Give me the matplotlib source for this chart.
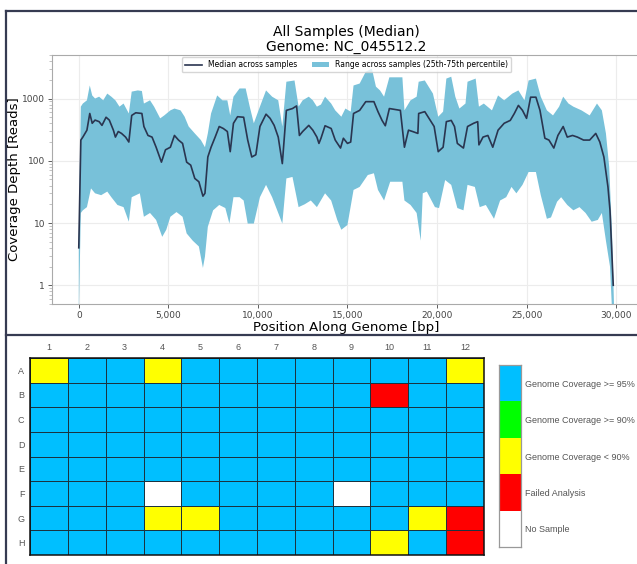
import numpy as np
import matplotlib.pyplot as plt
from matplotlib.colors import ListedColormap, BoundaryNorm
from matplotlib.lines import Line2D
from matplotlib.ticker import FuncFormatter, LogLocator

# median coverage across samples
median_pos = [0, 115, 227, 455, 614, 750, 909, 1136, 1295, 1523, 1705, 1932, 2045, 2205, 2386, 2614,
              2795, 2955, 3182, 3523, 3636, 3864, 4091, 4318, 4614, 4841, 5114, 5341, 5568, 5795,
              6023, 6250, 6477, 6705, 6932, 7045, 7205, 7386, 7614, 7841, 8068, 8295, 8455, 8636,
              8864, 9205, 9432, 9659, 9886, 10114, 10455, 10682, 10909, 11136, 11364, 11591, 11932,
              12159, 12318, 12500, 12841, 13068, 13295, 13409, 13523, 13750, 14091, 14318, 14614,
              14773, 15000, 15182, 15341, 15682, 16023, 16477, 16705, 16932, 17114, 17341, 17955,
              18182, 18409, 18636, 18932, 18977, 19318, 19841, 20068, 20341, 20523, 20795, 20977,
              21136, 21477, 21705, 22045, 22273, 22341, 22568, 22841, 23114, 23409, 23750, 24091,
              24318, 24545, 24773, 25000, 25227, 25523, 25750, 26023, 26250, 26523, 26750, 27045,
              27273, 27568, 27841, 28182, 28523, 28864, 29091, 29318, 29545, 29659, 29841]
median_depth = [4, 215, 240, 310, 575, 400, 450, 425, 370, 500, 450, 310, 240, 295, 275, 240,
                200, 535, 590, 575, 355, 255, 240, 165, 95, 150, 165, 255, 215, 190,
                95, 85, 52, 46, 27, 30, 115, 165, 240, 355, 330, 295, 140, 400,
                510, 500, 215, 115, 125, 355, 560, 480, 370, 240, 90, 645, 690,
                760, 255, 295, 370, 310, 240, 190, 230, 365, 330, 215, 160,
                230, 190, 200, 575, 645, 890, 890, 615, 445, 365, 690, 645,
                165, 310, 295, 275, 575, 615, 355, 140, 165, 425, 445, 355,
                190, 160, 355, 400, 425, 180, 240, 255, 165, 310, 400, 445,
                575, 775, 645, 480, 1050, 1050, 645, 230, 215, 160, 255, 355,
                240, 255, 240, 215, 215, 275, 200, 115, 38, 16, 1]

# 75th percentile
upper_pos = [0, 114, 227, 455, 614, 750, 909, 1136, 1364, 1591, 1818, 2045, 2273, 2500, 2795,
             2955, 3295, 3523, 3636, 3977, 4205, 4545, 4773, 5114, 5341, 5682, 5909, 6136, 6477,
             6818, 7045, 7205, 7386, 7727, 8023, 8295, 8455, 8636, 8977, 9318, 9545, 9773, 10114,
             10455, 10795, 11136, 11364, 11591, 12045, 12273, 12500, 12841, 13068, 13295, 13523,
             13750, 14091, 14318, 14659, 14886, 15182, 15341, 15682, 16023, 16364, 16591, 16818,
             17045, 17341, 18068, 18182, 18523, 18864, 18977, 19318, 19773, 20068, 20341, 20523,
             20795, 21023, 21250, 21591, 21705, 22159, 22341, 22614, 23068, 23409, 23750, 24205,
             24545, 24886, 25114, 25523, 25795, 26136, 26477, 26818, 27045, 27341, 27614, 28068,
             28523, 28932, 29205, 29432, 29614, 29773, 29886]
upper_depth = [6, 740, 830, 935, 1620, 1120, 1000, 1070, 935, 1200, 1070, 935, 740, 830, 575,
               1290, 1350, 1320, 830, 935, 740, 480, 535, 645, 690, 645, 510, 355, 275,
               215, 165, 275, 575, 1120, 935, 935, 535, 1070, 1450, 1450, 740, 400, 740,
               1350, 1070, 935, 355, 1860, 1950, 740, 935, 1070, 935, 740, 800,
               1070, 830, 645, 510, 690, 615, 1620, 1740, 2690, 3020, 1550, 1350,
               1070, 2190, 2190, 645, 935, 1070, 1860, 1950, 1200, 510, 615, 2090,
               2240, 1070, 690, 830, 1860, 2090, 740, 830, 645, 1120, 935, 1200,
               1350, 935, 1950, 2090, 1070, 645, 535, 740, 1070, 830, 740, 645,
               535, 830, 645, 275, 80, 6.8, 0.45]

# 25th percentile
lower_pos = [0, 114, 227, 455, 682, 909, 1250, 1591, 1818, 2159, 2500, 2795, 2955, 3409, 3636,
             3977, 4318, 4659, 4886, 5114, 5455, 5795, 6023, 6364, 6705, 6932, 7045, 7205, 7500,
             7841, 8182, 8409, 8636, 8977, 9205, 9432, 9773, 10114, 10455, 10795, 11136, 11364,
             11591, 11932, 12273, 12614, 12955, 13295, 13750, 14091, 14432, 14659, 15000, 15341,
             15682, 16136, 16477, 16705, 17045, 17386, 18068, 18182, 18523, 18864, 19091, 19205,
             19432, 19886, 20114, 20455, 20795, 21136, 21477, 21705, 22114, 22386, 22727, 23182,
             23523, 23864, 24159, 24432, 24773, 25114, 25523, 25795, 26136, 26364, 26705, 26932,
             27273, 27614, 27955, 28295, 28636, 28977, 29205, 29432, 29659, 29773]
lower_depth = [0.3, 14.5, 16, 18, 36, 30, 28, 32, 26, 19.5, 18, 10.5, 26, 30, 12.6,
               14.5, 11.2, 6, 7.8, 12.6, 15, 12.6, 6.8, 5.2, 4.2, 1.9, 2.9, 8.7, 16,
               19.5, 17.4, 9.8, 26, 26, 23, 9.8, 9.8, 26, 41, 26, 14.5, 9.8,
               52, 55, 18, 20, 23, 18, 30, 23, 11.2, 7.8, 9.3, 34,
               38, 59, 63, 34, 23, 46, 46, 23, 19.5, 14.5, 5.2, 30,
               32, 18, 17.4, 49, 41, 17.4, 16, 41, 38, 18, 19.5, 11.7,
               23, 26, 38, 30, 41, 66, 66, 28, 11.7, 12.3, 22, 26,
               19.5, 16, 18, 14.5, 10.5, 11.2, 14.5, 5.2, 2.0, 0.4]

# plate layout
row_labels = ['A', 'B', 'C', 'D', 'E', 'F', 'G', 'H']
col_labels = [str(i) for i in range(1, 13)]
status_names = ['Genome Coverage >= 95%', 'Genome Coverage >= 90%', 'Genome Coverage < 90%',
                'Failed Analysis', 'No Sample']
status_colors = ['#00bfff', '#00ff00', '#ffff00', '#ff0000', '#ffffff']
# 0 >=95%, 1 >=90%, 2 <90%, 3 failed, 4 no sample
plate_status = [
    [2, 0, 0, 2, 0, 0, 0, 0, 0, 0, 0, 2],
    [0, 0, 0, 0, 0, 0, 0, 0, 0, 3, 0, 0],
    [0, 0, 0, 0, 0, 0, 0, 0, 0, 0, 0, 0],
    [0, 0, 0, 0, 0, 0, 0, 0, 0, 0, 0, 0],
    [0, 0, 0, 0, 0, 0, 0, 0, 0, 0, 0, 0],
    [0, 0, 0, 4, 0, 0, 0, 0, 4, 0, 0, 0],
    [0, 0, 0, 2, 2, 0, 0, 0, 0, 0, 2, 3],
    [0, 0, 0, 0, 0, 0, 0, 0, 0, 2, 0, 3],
]

W, H = 637, 564
fig = plt.figure(figsize=(W / 100, H / 100), dpi=100)

# ---- coverage plot ----
ax = fig.add_axes([52 / W, 1 - 304 / H, 589 / W, 249 / H])
ax.fill(np.r_[upper_pos, lower_pos[::-1]], np.r_[upper_depth, lower_depth[::-1]],
        color='#78c1d9', lw=0, label='Range across samples (25th-75th percentile)', zorder=2)
ax.plot(median_pos, median_depth, color='#2a3550', lw=1.2, label='Median across samples', zorder=3)
ax.set_yscale('log')
ax.set_ylim(0.5, 5000)
ax.set_xlim(-1495, 31390)
ax.yaxis.set_major_locator(LogLocator(base=10, numticks=10))
ax.yaxis.set_major_formatter(FuncFormatter(lambda v, _: f'{v:g}'))
ax.xaxis.set_major_formatter(FuncFormatter(lambda v, _: f'{v:,.0f}'))
ax.grid(True, color='#ececec', lw=0.8, zorder=0)
ax.set_axisbelow(True)
for s in ax.spines.values():
    s.set_color('#aaaaaa')
ax.tick_params(labelsize=6.5, colors='#444444', length=3, width=0.6, pad=2)
ax.tick_params(which='minor', colors='#aaaaaa', length=2, width=0.5)
ax.set_title('All Samples (Median)\nGenome: NC_045512.2', fontsize=10, pad=3, linespacing=1.05)
ax.set_xlabel('Position Along Genome [bp]', fontsize=9.5)
ax.set_ylabel('Coverage Depth [Reads]', fontsize=9.5)
ax.xaxis.set_label_coords(0.5, -0.07)
ax.yaxis.set_label_coords(-0.053, 0.5)
handles, labels = ax.get_legend_handles_labels()
ax.legend(handles[::-1], labels[::-1], loc='upper center', ncol=2, fontsize=5.5,
          borderaxespad=0.3, frameon=True, edgecolor='#cccccc', handlelength=2.2)

# ---- plate map ----
cmap = ListedColormap(status_colors)
norm = BoundaryNorm(np.arange(-0.5, 5.5, 1), cmap.N)
font = {'family': 'Liberation Sans', 'size': 6.5, 'color': '#555555'}

ax2 = fig.add_axes([30 / W, 1 - 555 / H, 454 / W, 197 / H])
ax2.pcolormesh(np.array(plate_status), cmap=cmap, norm=norm, edgecolors='#1b3340', linewidth=0.55)
ax2.set_ylim(len(row_labels), 0)
ax2.set_xlim(0, len(col_labels))
ax2.set_xticks(np.arange(len(col_labels)) + 0.5)
ax2.set_xticklabels(col_labels, fontdict=font)
ax2.set_yticks(np.arange(len(row_labels)) + 0.5)
ax2.set_yticklabels(row_labels, fontdict=font)
ax2.xaxis.tick_top()
ax2.tick_params(length=0, pad=4)
for s in ax2.spines.values():
    s.set_color('#111111')
    s.set_linewidth(1.1)

cax = fig.add_axes([499 / W, 1 - 547 / H, 22 / W, 182 / H])
cax.imshow(np.arange(len(status_names)).reshape(-1, 1), cmap=cmap, norm=norm, aspect='auto')
cax.set_xticks([])
cax.set_yticks(range(len(status_names)))
cax.set_yticklabels(status_names, fontdict=font)
cax.yaxis.tick_right()
cax.tick_params(length=0, pad=3)
for s in cax.spines.values():
    s.set_color('#999999')
    s.set_linewidth(0.9)

# ---- screenshot-like frame ----
frame_c = '#363b52'
fig.add_artist(Line2D([6 / W, 1], [1 - 10.5 / H] * 2, color=frame_c, lw=1.6))
fig.add_artist(Line2D([6 / W] * 2, [0, 1 - 10.5 / H], color=frame_c, lw=1.6))
fig.add_artist(Line2D([6 / W, 1], [1 - 335 / H] * 2, color=frame_c, lw=1.6))

fig.savefig('out.png', dpi=100, facecolor='white')
